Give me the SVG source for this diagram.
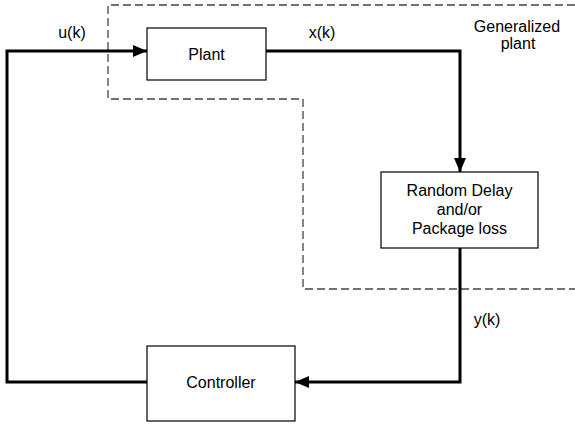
<svg xmlns="http://www.w3.org/2000/svg" width="575" height="430" viewBox="0 0 575 430">
<style>
.box{fill:#fff;stroke:#000;stroke-width:1.2}
.t{font-family:"Liberation Sans",Arial,sans-serif;font-size:16px;fill:#000;text-anchor:middle}
.w{fill:none;stroke:#000;stroke-width:3}
.dash{fill:none;stroke:#444;stroke-width:1.3;stroke-dasharray:8,4}
</style>
<defs>
<marker id="ah" markerWidth="14" markerHeight="12" refX="14" refY="6" orient="auto" markerUnits="userSpaceOnUse" viewBox="0 0 14 12">
<path d="M0,0 L14,6 L0,12 z" fill="#000"/>
</marker>
</defs>
<g id="generalized-plant">
<path class="dash" d="M575,5 H108 V99 H303 V289 H575"/>
<text class="t" x="517" y="32">Generalized</text>
<text class="t" x="518" y="49">plant</text>
</g>
<g id="connectors">
<path class="w" d="M147,382 H7 V51 H147" marker-end="url(#ah)"/>
<path class="w" d="M266,51 H460 V172" marker-end="url(#ah)"/>
<path class="w" d="M460,248 V382 H295" marker-end="url(#ah)"/>
<text class="t" x="72" y="38">u(k)</text>
<text class="t" x="322" y="38">x(k)</text>
<text class="t" x="487" y="325">y(k)</text>
</g>
<g id="plant">
<rect class="box" x="147" y="28" width="119" height="52"/>
<text class="t" x="206.5" y="60">Plant</text>
</g>
<g id="delay">
<rect class="box" x="381" y="172" width="157" height="76"/>
<text class="t" x="459.5" y="196">Random Delay</text>
<text class="t" x="459.5" y="215">and/or</text>
<text class="t" x="459.5" y="234">Package loss</text>
</g>
<g id="controller">
<rect class="box" x="147" y="346" width="148" height="75"/>
<text class="t" x="221" y="388">Controller</text>
</g>
</svg>
